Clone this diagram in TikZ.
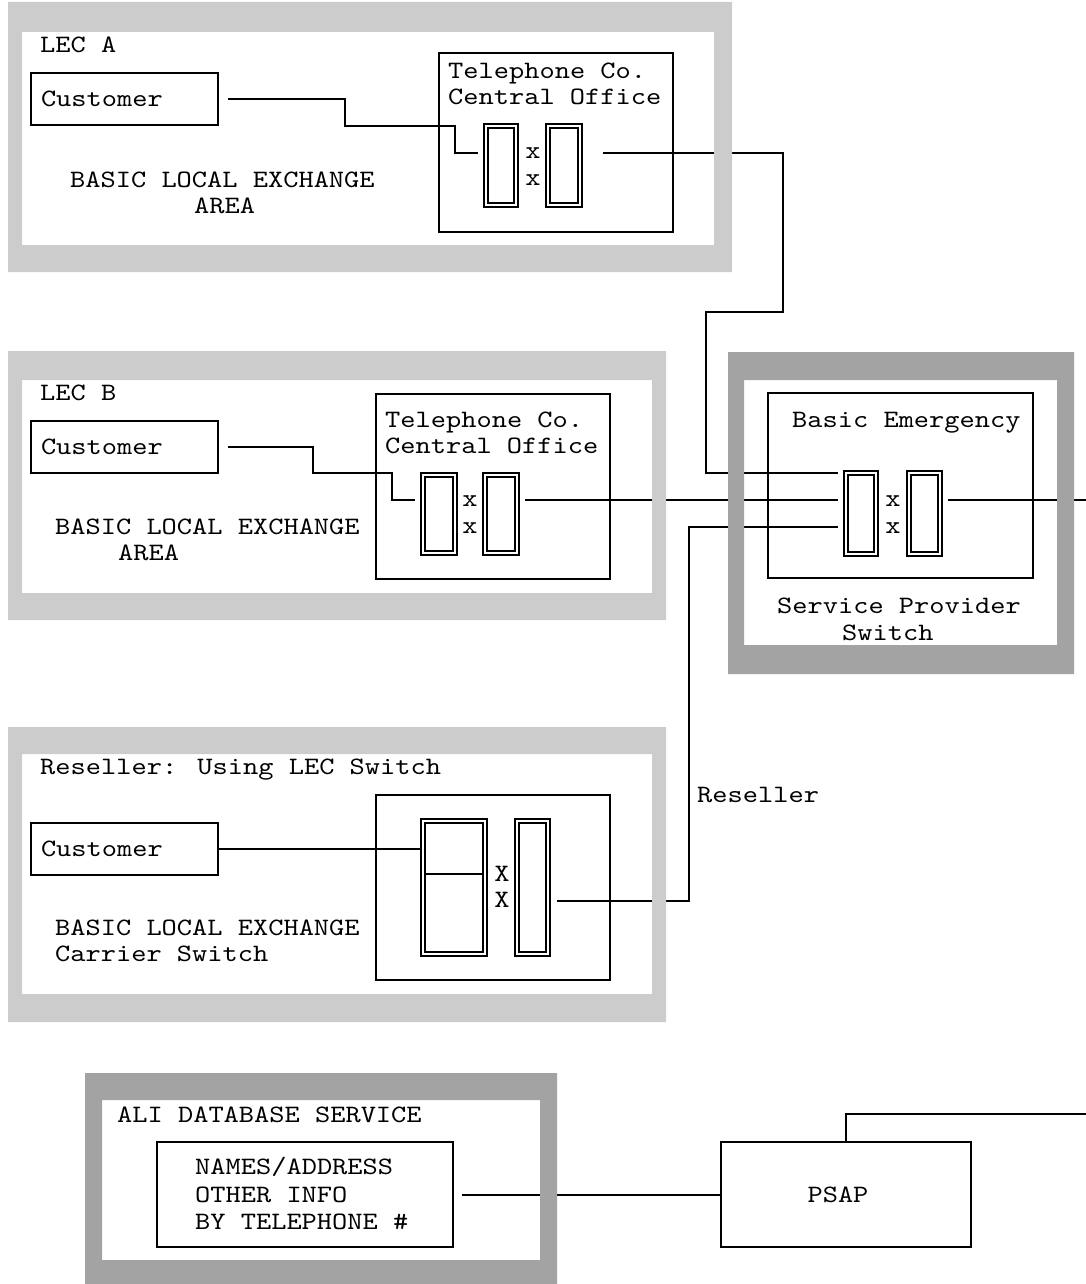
\documentclass[tikz,border=0pt]{standalone}
\usepackage{fontspec}
\newfontfamily\cour{lmmono10-regular.otf}[FakeStretch=1.16]
\begin{document}
\begin{tikzpicture}[x=1pt,y=-1pt,
  box/.style={draw, line width=2pt, inner sep=0pt, outer sep=0pt},
  dbl/.style={draw, double, line width=1.6pt, double distance=2.6pt, inner sep=0pt, outer sep=0pt},
  conn/.style={line width=2pt},
  txt/.style={anchor=base west, inner sep=0pt, font=\cour\fontsize{25}{26}\selectfont},
  xmk/.style={anchor=center, inner sep=0pt, font=\cour\fontsize{25}{26}\selectfont},
  custbox/.style={box, minimum width=187pt, minimum height=52pt, text width=167pt, align=left, inner xsep=10pt, font=\cour\fontsize{25}{26}\selectfont},
  lightfr/.style={fill=black!20, even odd rule},
  darkfr/.style={fill=black!36, even odd rule}]
\useasboundingbox (0,0) rectangle (1086,1284);

% ---------- LEC A ----------
\node[txt] (tLA) at (40,53) {LEC A};
\node[custbox] (custA) at (124.5,99) {Customer};
\node[box, minimum width=234pt, minimum height=179pt] (coA) at (556,142.5) {};
\node[txt] (coA1) at (448,79) {Telephone Co.};
\node[txt] (coA2) at (448,105) {Central Office};
\node[dbl, minimum width=30.2pt, minimum height=79.2pt] (swA1) at (501,165.5) {};
\node[dbl, minimum width=32.2pt, minimum height=79.2pt] (swA2) at (564,165.5) {};
\node[xmk] (xA1) at (533,153) {x};
\node[xmk] (xA2) at (533,180) {x};
\node[txt] (bA1) at (70,187) {BASIC LOCAL EXCHANGE};
\node[txt] (bA2) at (194,213) {AREA};

% ---------- LEC B ----------
\node[txt] (tLB) at (40,400) {LEC B};
\node[custbox] (custB) at (124.5,446.5) {Customer};
\node[box, minimum width=234pt, minimum height=185pt] (coB) at (493,486.5) {};
\node[txt] (coB1) at (385,427) {Telephone Co.};
\node[txt] (coB2) at (385,453) {Central Office};
\node[dbl, minimum width=32.2pt, minimum height=78.2pt] (swB1) at (439,514) {};
\node[dbl, minimum width=32.2pt, minimum height=78.2pt] (swB2) at (501,514) {};
\node[xmk] (xB1) at (470,501) {x};
\node[xmk] (xB2) at (470,528) {x};
\node[txt] (bB1) at (55,534) {BASIC LOCAL EXCHANGE};
\node[txt] (bB2) at (118,560) {AREA};

% ---------- Service provider ----------
\node[box, minimum width=265pt, minimum height=185pt] (svc) at (900.5,485.5) {};
\node[txt] (svcT) at (792,427) {Basic Emergency};
\node[dbl, minimum width=30.2pt, minimum height=81.2pt] (svc1) at (861,513.5) {};
\node[dbl, minimum width=31.2pt, minimum height=81.2pt] (svc2) at (924.5,513.5) {};
\node[xmk] (xS1) at (893,501) {x};
\node[xmk] (xS2) at (893,528) {x};
\node[txt] (spT1) at (777,613) {Service Provider};
\node[txt] (spT2) at (842,640) {Switch};

% ---------- Reseller ----------
\node[txt] (tR) at (40,774) {Reseller: Using LEC Switch};
\node[custbox] (custR) at (124.5,848.5) {Customer};
\node[box, minimum width=234pt, minimum height=185pt] (lecsw) at (493,887.5) {};
\node[dbl, minimum width=62.2pt, minimum height=133.2pt] (swR1) at (454,887.5) {};
\node[dbl, minimum width=31.2pt, minimum height=133.2pt] (swR2) at (532.5,887.5) {};
\draw[conn] (425.8,874) -- (482.2,874);
\node[xmk] (xR1) at (502,874) {X};
\node[xmk] (xR2) at (502,900) {X};
\node[txt] (bR1) at (55,935) {BASIC LOCAL EXCHANGE};
\node[txt] (bR2) at (55,961) {Carrier Switch};
\node[txt] (resl) at (697,802) {Reseller};

% ---------- ALI / PSAP ----------
\node[txt] (aliT) at (117,1122) {ALI DATABASE SERVICE};
\node[box, minimum width=296pt, minimum height=105pt] (ali) at (305,1194.5) {};
\node[txt] (ali1) at (195,1174) {NAMES/ADDRESS};
\node[txt] (ali2) at (195,1202) {OTHER INFO};
\node[txt] (ali3) at (195,1229) {BY TELEPHONE \#};
\node[box, minimum width=250pt, minimum height=105pt] (psap) at (846,1194.5) {};
\node[xmk] (psapT) at (838,1195) {PSAP};

\coordinate (outR) at (1086,500);
\coordinate (outP) at (1086,1114);

% ---------- connectors ----------
\draw[conn, shorten <=10pt, shorten >=8pt] (custA.east) -- (345,99) -- (345,126) -- (455,126) -- (455,153) -- (swA1.west |- 0,153);
\draw[conn, shorten <=23pt, shorten >=8pt] (swA2.east |- 0,153) -- (783,153) -- (783,312) -- (706,312) -- (706,473) -- (svc1.west |- 0,473);
\draw[conn, shorten <=10pt, shorten >=8pt] (custB.east) -- (313,446.5) -- (313,473) -- (392,473) -- (392,500) -- (swB1.west |- 0,500);
\draw[conn, shorten <=8pt, shorten >=8pt] (swB2.east |- 0,500) -- (svc1.west |- 0,500);
\draw[conn, shorten >=3pt] (custR.east) -- (swR1.west |- custR.east);
\draw[conn, shorten <=9pt, shorten >=8pt] (swR2.east |- 0,901) -- (689,901) -- (689,527) -- (svc1.west |- 0,527);
\draw[conn, shorten <=8pt] (svc2.east |- 0,500) -- (outR);
\draw[conn, shorten <=9pt] (ali.east) -- (psap.west);
\draw[conn] (psap.north) -- (846,1114) -- (outP);

% ---------- shaded frames (on top of lines) ----------
\fill[lightfr] (8,2) rectangle (732,272) (22,32) rectangle (714,245);
\fill[lightfr] (8,351) rectangle (666,620) (22,380) rectangle (652,593);
\fill[lightfr] (8,727) rectangle (666,1022) (22,754) rectangle (652,994);
\fill[darkfr] (728,352) rectangle (1074,674) (744,380) rectangle (1057,645);
\fill[darkfr] (85,1073) rectangle (557,1290) (102,1100) rectangle (540,1260);
\end{tikzpicture}
\end{document}
